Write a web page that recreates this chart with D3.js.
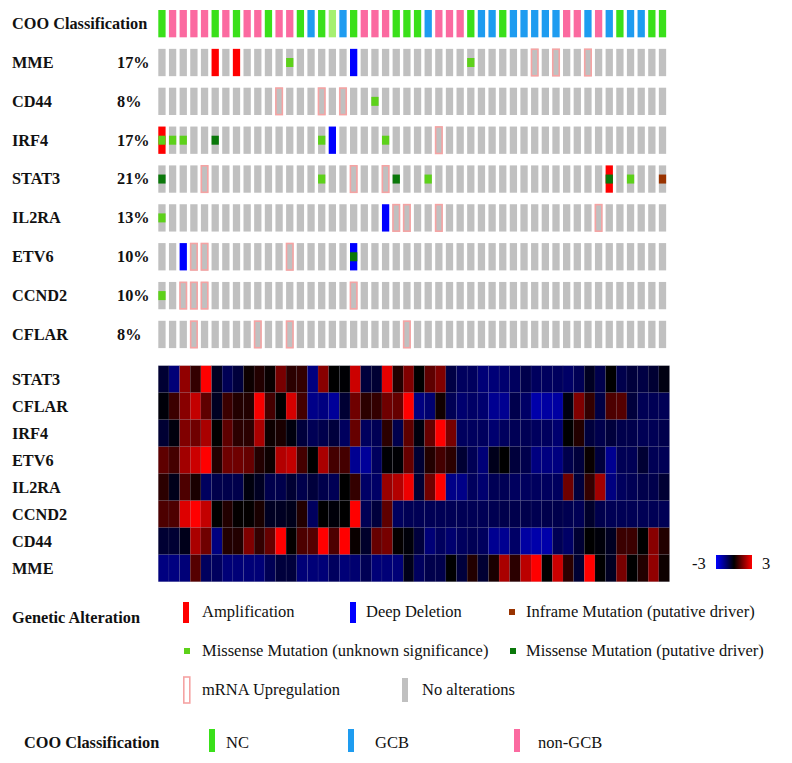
<!DOCTYPE html>
<html><head><meta charset="utf-8">
<script src="https://cdn.jsdelivr.net/npm/d3@7"></script>
<style>body{margin:0;background:#fff}svg{display:block}text{font-family:"Liberation Serif",serif;fill:#111}</style>
</head><body><svg id="c" width="792" height="763"></svg>
<script>
// ---------------- DATA ----------------
const nSamples = 48;
const cooClass = ["NC","non-GCB","non-GCB","non-GCB","non-GCB","NC","non-GCB","NC","non-GCB","non-GCB","NC","non-GCB","non-GCB","NC","GCB","NC","NC-low","GCB","NC","non-GCB","non-GCB","non-GCB","NC","NC",
                  "NC","GCB","non-GCB","non-GCB","non-GCB","NC","GCB","GCB","NC","GCB","GCB","GCB","GCB","GCB","non-GCB","non-GCB","GCB","non-GCB","GCB","NC","GCB","GCB","NC","NC"];
const oncoGenes = ["MME","CD44","IRF4","STAT3","IL2RA","ETV6","CCND2","CFLAR"];
const oncoPct = ["17%","8%","17%","21%","13%","10%","10%","8%"];
const altMME   = [[6,"amp"],[8,"amp"],[13,"mis"],[19,"del"],[30,"mis"],[36,"mrna"],[38,"mrna"],[41,"mrna"]];
const altCD44  = [[12,"mrna"],[16,"mrna"],[18,"mrna"],[21,"mis"]];
const altIRF4  = [[1,"amp"],[1,"mis"],[2,"mis"],[3,"mis"],[6,"misD"],[16,"mis"],[17,"del"],[22,"mis"],[27,"mrna"]];
const altSTAT3 = [[1,"misD"],[5,"mrna"],[16,"mis"],[19,"mrna"],[22,"mrna"],[23,"misD"],[26,"mis"],[43,"amp"],[43,"misD"],[45,"mis"],[48,"inf"]];
const altIL2RA = [[1,"mis"],[22,"del"],[23,"mrna"],[24,"mrna"],[27,"mrna"],[42,"mrna"]];
const altETV6  = [[3,"del"],[4,"mrna"],[5,"mrna"],[13,"mrna"],[19,"del"],[19,"misD"]];
const altCCND2 = [[1,"mis"],[3,"mrna"],[4,"mrna"],[5,"mrna"],[19,"mrna"]];
const altCFLAR = [[4,"mrna"],[10,"mrna"],[13,"mrna"],[24,"mrna"]];

const heatGenes = ["STAT3","CFLAR","IRF4","ETV6","IL2RA","CCND2","CD44","MME"];
const zSTAT3 = [-0.6,-1.4,1.7,0.6,3,-0.4,-1.0,-0.7,0.15,0.4,0.1,1.4,0.5,0.6,-1.5,1.6,0,-0.05,2.4,-0.7,-0.6,2.7,0.4,1.5,
                0,1.1,1.5,-0.8,-1.1,-1.1,-1.4,-1.4,-1.3,-1.1,-0.9,-1.1,-1.1,-1.1,-1.2,-1.0,-0.4,-0.9,0,-0.9,-0.7,-0.8,-0.6,-0.2];
const zCFLAR = [-0.1,0.7,1.6,2.3,1.1,-0.4,0.7,0.4,0.4,2.9,0.8,0,2.5,0.8,-1.6,-1.5,-1.8,-0.6,1.3,0.5,0.6,1.3,1.2,3.0,
                -1.5,-1.3,0.2,-1.0,-1.3,-1.2,-1.3,-1.7,-1.7,-0.9,-1.2,-2.0,-1.9,-1.9,-0.2,1.5,0.6,-0.8,0.9,1.0,-0.7,-1.0,-1.0,-1.0];
const zIRF4 = [-0.6,-0.15,1.5,1.3,2.0,0,1.1,0.5,0.5,2.0,0.15,0.3,-0.15,-0.7,-1.0,-0.9,-0.7,-1.1,1.2,-1.1,-1.0,0.5,-0.9,1.1,
               -0.15,1.2,3.0,1.4,-1.1,-1.1,-1.1,-1.3,-1.1,-1.0,-1.0,-1.1,-1.1,-1.3,0,0.4,-0.7,-0.9,-0.7,-0.9,-0.9,-1.0,-1.0,-0.9];
const zETV6 = [1.1,0.8,1.9,2.4,3.0,0.4,1.3,1.3,1.2,0.4,0.15,2.1,2.3,0.8,0,2.0,0.8,0.8,-1.7,-1.8,-1.1,-0.05,-0.05,1.2,
               -0.6,0.4,0.8,0.5,-0.6,-1.0,-1.4,-0.3,0,-0.7,-0.9,-1.5,-1.5,-1.5,-0.9,-0.7,0.1,-0.7,-1.7,-1.0,-1.0,-0.6,-1.0,-1.0];
const zIL2RA = [0.5,-0.3,0.9,0.3,-1.1,-0.9,-0.9,-0.9,-0.15,-0.4,-0.9,-0.9,-0.6,-0.9,-0.7,-0.9,-1.0,0,0.6,-1.2,-1.2,1.8,2.1,2.8,
                -0.6,1.3,3.0,-1.6,-1.6,-1.1,-1.3,-1.0,-1.0,-1.1,-1.1,-1.1,-1.1,-1.1,1.3,-0.7,0.6,1.9,-1.5,-1.1,-1.0,-0.9,-0.9,-0.6];
const zCCND2 = [0.9,0.9,2.6,3.0,2.3,0,0.4,0.05,0.05,0.3,-0.4,-0.4,-0.3,0.4,-1.1,0,-0.1,0,3.0,-1.0,-0.7,1.1,-1.1,-1.0,
                -1.0,-1.0,-1.0,-1.0,-1.0,-1.0,-1.0,-0.95,-0.9,-0.9,-0.9,-0.95,-0.9,-0.9,-0.95,-1.0,-0.5,-0.9,-1.0,-1.0,-1.0,-1.0,-1.0,-1.0];
const zCD44 = [-0.6,-0.6,-0.3,2.0,1.3,-1.5,0.4,0.4,1.5,0.6,1.2,3.0,0.05,0.9,1.0,3.0,0.9,3.0,0.1,-0.5,1.2,1.4,0.05,-0.1,
               -0.7,-1.4,-1.1,-1.3,-1.1,-1.0,-1.1,-1.7,-1.7,-1.2,-1.9,-2.0,-2.0,-1.0,-1.2,-0.6,0,-0.1,-0.4,0.7,0.7,0,1.6,0.4];
const zMME = [-1.5,-1.5,-1.4,1.0,-1.1,-1.1,-1.4,-1.4,-1.4,-1.4,-1.0,-0.7,-0.7,-1.4,-1.4,-1.4,-1.1,-1.4,-1.3,-1.0,-1.4,-1.4,-1.4,-0.3,
              -1.1,-0.9,-0.9,0,-0.7,0.4,-0.6,0.3,2.0,0.5,2.2,3.0,0,2.4,0.5,-0.6,3.0,0,-0.4,1.4,0,0.4,1.7,0.15];
const colorTicks = ["-3","3"];

// ---------------- DRAW ----------------
const svg = d3.select("#c");
const altByGene = {MME:altMME,CD44:altCD44,IRF4:altIRF4,STAT3:altSTAT3,IL2RA:altIL2RA,ETV6:altETV6,CCND2:altCCND2,CFLAR:altCFLAR};
const zByGene = {STAT3:zSTAT3,CFLAR:zCFLAR,IRF4:zIRF4,ETV6:zETV6,IL2RA:zIL2RA,CCND2:zCCND2,CD44:zCD44,MME:zMME};
const cooColor = {"NC":"#3ae01a","NC-low":"#a6f070","GCB":"#1e9cf0","non-GCB":"#fb6aa0"};
const altColor = {amp:"#ff0000",del:"#0000ff",inf:"#993300",mis:"#5dd11a",misD:"#0a780a",mrna:"#f5a3a3",none:"#c0c0c0"};

const samples = d3.range(1, nSamples+1);
const x = d3.scaleBand().domain(samples).range([158.3, 666.15]).paddingInner(0.315).paddingOuter(0);
const rows = ["COO"].concat(oncoGenes);
const y = d3.scaleBand().domain(rows).range([10, 348.1]).paddingInner(0.297).paddingOuter(0);

const LBL = 16.3, LEG = 16.5;
// labels
const lab = svg.append("g").attr("font-weight","bold").attr("font-size",LBL);
lab.append("text").attr("x",12).attr("y",y("COO")+y.bandwidth()/2).attr("dy","0.33em").text("COO Classification");
oncoGenes.forEach((g,i)=>{
  lab.append("text").attr("x",12).attr("y",y(g)+y.bandwidth()/2).attr("dy","0.33em").text(g);
  lab.append("text").attr("x",117).attr("y",y(g)+y.bandwidth()/2).attr("dy","0.33em").text(oncoPct[i]);
});

// COO row
svg.append("g").selectAll("rect").data(samples).join("rect")
  .attr("x",d=>x(d)).attr("y",y("COO")).attr("width",x.bandwidth()).attr("height",y.bandwidth())
  .attr("fill",d=>cooColor[cooClass[d-1]]);

// oncoprint rows
const mh = 9;
oncoGenes.forEach(g=>{
  const gg = svg.append("g");
  const y0 = y(g), h = y.bandwidth();
  const evs = altByGene[g];
  const full = new Map();
  evs.forEach(([s,t])=>{ if(t==="amp"||t==="del") full.set(s,t); });
  gg.selectAll("rect.bg").data(samples).join("rect").attr("class","bg")
    .attr("x",d=>x(d)).attr("y",y0).attr("width",x.bandwidth()).attr("height",h)
    .attr("fill",d=>full.has(d)?altColor[full.get(d)]:altColor.none);
  evs.filter(e=>e[1]==="mis"||e[1]==="misD"||e[1]==="inf").forEach(([s,t])=>{
    gg.append("rect").attr("x",x(s)).attr("y",y0+h/2-mh/2).attr("width",x.bandwidth()).attr("height",mh).attr("fill",altColor[t]);
  });
  evs.filter(e=>e[1]==="mrna").forEach(([s])=>{
    gg.append("rect").attr("x",x(s)+0.4).attr("y",y0+0.4).attr("width",x.bandwidth()-0.8).attr("height",h-0.8)
      .attr("fill","none").attr("stroke",altColor.mrna).attr("stroke-width",1.6);
  });
});

// heatmap
const hx = d3.scaleBand().domain(samples).range([158.3, 669.5]);
const hy = d3.scaleBand().domain(heatGenes).range([365.7, 581.7]);
const col = d3.scaleLinear().domain([-3,0,3]).range(["#0000ff","#000000","#ff0000"]).clamp(true);
const hg = svg.append("g");
heatGenes.forEach(g=>{
  hg.selectAll(null).data(zByGene[g]).join("rect")
    .attr("x",(d,i)=>hx(i+1)).attr("y",hy(g)).attr("width",hx.bandwidth()).attr("height",hy.bandwidth())
    .attr("fill",d=>col(d)).attr("stroke","rgba(110,110,140,0.22)").attr("stroke-width",0.5);
});
const hl = svg.append("g").attr("font-weight","bold").attr("font-size",LBL);
heatGenes.forEach(g=>{
  hl.append("text").attr("x",12).attr("y",hy(g)+hy.bandwidth()/2).attr("dy","0.33em").text(g);
});

// color legend
const defs = svg.append("defs");
const lg = defs.append("linearGradient").attr("id","grad");
[[0,"#0000ff"],[0.5,"#000000"],[1,"#ff0000"]].forEach(([o,c])=>lg.append("stop").attr("offset",o).attr("stop-color",c));
const cx = d3.scaleLinear().domain([-3,3]).range([716,752]);
svg.append("rect").attr("x",cx(-3)).attr("y",555).attr("width",cx(3)-cx(-3)).attr("height",14).attr("fill","url(#grad)");
svg.append("text").attr("x",cx(-3)-24).attr("y",563).attr("dy","0.35em").attr("font-size",LEG).text(colorTicks[0]);
svg.append("text").attr("x",cx(3)+10).attr("y",563).attr("dy","0.35em").attr("font-size",LEG).text(colorTicks[1]);

// genetic alteration legend
const L = svg.append("g").attr("font-size",LEG);
L.append("text").attr("x",12).attr("y",618).attr("dy","0.33em").attr("font-weight","bold").attr("font-size",LBL).text("Genetic Alteration");
const legendItems = [
  {t:"amp", x:183, y:612, label:"Amplification", tx:202},
  {t:"del", x:350, y:612, label:"Deep Deletion", tx:366},
  {t:"inf", x:509, y:612, label:"Inframe Mutation (putative driver)", tx:526},
  {t:"mis", x:184, y:651, label:"Missense Mutation (unknown significance)", tx:202},
  {t:"misD", x:510, y:651, label:"Missense Mutation (putative driver)", tx:526},
  {t:"mrna", x:183, y:690, label:"mRNA Upregulation", tx:202},
  {t:"none", x:402, y:690, label:"No alterations", tx:422}
];
legendItems.forEach(it=>{
  if(it.t==="amp"||it.t==="del") L.append("rect").attr("x",it.x).attr("y",it.y-10).attr("width",6).attr("height",21).attr("fill",altColor[it.t]);
  else if(it.t==="none") L.append("rect").attr("x",it.x).attr("y",it.y-12).attr("width",6).attr("height",24).attr("fill",altColor.none);
  else if(it.t==="mrna") L.append("rect").attr("x",it.x+0.8).attr("y",it.y-13).attr("width",6).attr("height",26).attr("fill","none").attr("stroke",altColor.mrna).attr("stroke-width",1.6);
  else L.append("rect").attr("x",it.x).attr("y",it.y-3).attr("width",6).attr("height",6).attr("fill",altColor[it.t]);
  L.append("text").attr("x",it.tx).attr("y",it.y).attr("dy","0.33em").text(it.label);
});

// COO legend
L.append("text").attr("x",24).attr("y",743).attr("dy","0.33em").attr("font-weight","bold").attr("font-size",LBL).text("COO Classification");
[{k:"NC",x:209,tx:226},{k:"GCB",x:348,tx:375},{k:"non-GCB",x:514,tx:538}].forEach(it=>{
  L.append("rect").attr("x",it.x).attr("y",729).attr("width",6).attr("height",23).attr("fill",cooColor[it.k]);
  L.append("text").attr("x",it.tx).attr("y",743).attr("dy","0.33em").text(it.k);
});
</script></body></html>
